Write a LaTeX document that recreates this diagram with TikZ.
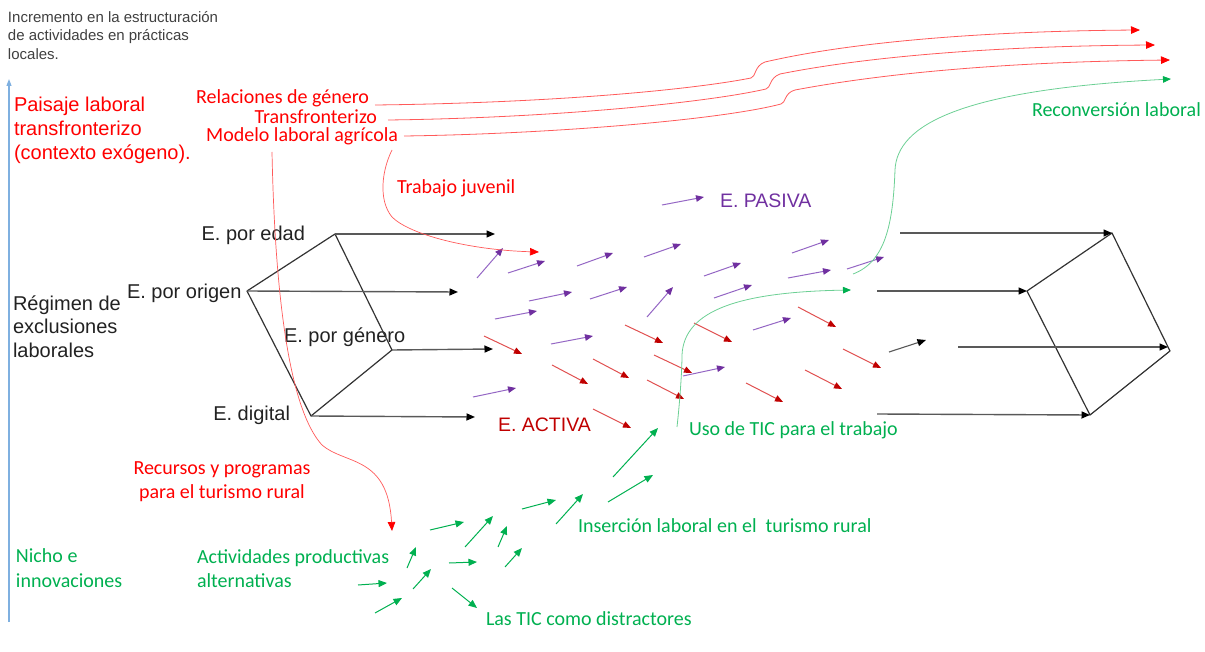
\documentclass[tikz,border=0pt]{standalone}
\usepackage{fontspec}
\setmainfont{Liberation Sans}
\newfontfamily\cbfont{Carlito}
\usetikzlibrary{arrows.meta}
\definecolor{txtgray}{HTML}{404040}
\definecolor{txtblack}{HTML}{222222}
\definecolor{lred}{HTML}{FF0000}
\definecolor{curvered}{HTML}{FF5A5A}
\definecolor{dred}{HTML}{C00000}
\definecolor{arred}{HTML}{E05050}
\definecolor{purp}{HTML}{7030A0}
\definecolor{purpline}{HTML}{9466C4}
\definecolor{grn}{HTML}{00B050}
\definecolor{lgrn}{HTML}{6CCF94}
\definecolor{axisblue}{HTML}{7FB0E0}
\begin{document}
\begin{tikzpicture}[x=1pt,y=-1pt,
  txt/.style={inner sep=0pt, outer sep=0pt},
  ar20/.style={txt, font=\fontsize{20}{24}\selectfont},
  cb20/.style={txt, font=\cbfont\fontsize{20}{24.5}\selectfont},
  pa/.style={draw=purpline, line width=1pt, -{Triangle[length=8pt,width=6.5pt,color=purp]}},
  ra/.style={draw=arred, line width=1pt, -{Triangle[length=8pt,width=6.5pt,color=dred]}},
  ga/.style={draw=grn, line width=1pt, -{Triangle[length=8.5pt,width=7pt]}},
  ka/.style={draw=black!65, line width=1.4pt, -{Triangle[length=8.5pt,width=7pt,color=black]}},
  sq/.style={draw=black!80, line width=1.2pt, line join=round},
  rcurve/.style={draw=curvered, line width=0.8pt, -{Triangle[length=9pt,width=7.5pt,color=lred]}},
  gcurve/.style={draw=lgrn, line width=0.8pt},
]
\useasboundingbox (0,0) rectangle (1205,652);

% ---------- axis ----------
\coordinate (axbot) at (9,622);
\coordinate (axtop) at (9,79);
\draw[draw=axisblue, line width=1.1pt, -{Triangle[length=7pt,width=5pt]}] (axbot) -- (axtop);

% ---------- texts (multi-line: base anchor = last line) ----------
\node[txt, anchor=base west, align=left, text=txtgray, font=\fontsize{15}{18.5}\selectfont] (incr) at (8,59.5)
  {Incremento en la estructuración\\de actividades en prácticas\\locales.};
\node[ar20, anchor=base west, align=left, text=lred] (paisaje) at (14,160)
  {Paisaje laboral\\transfronterizo\\(contexto exógeno).};
\node[ar20, anchor=base west, align=left, text=txtblack, font=\fontsize{20}{23.5}\selectfont] (regimen) at (13,357)
  {Régimen de\\exclusiones\\laborales};

\node[cb20, anchor=base east, text=lred] (rel) at (369,104) {Relaciones de género};
\node[cb20, anchor=base east, text=lred] (trans) at (377,124) {Transfronterizo};
\node[cb20, anchor=base east, text=lred] (modelo) at (398,142) {Modelo laboral agrícola};
\node[cb20, anchor=base west, text=lred] (juvenil) at (397,194) {Trabajo juvenil};
\node[cb20, anchor=base, align=center, text=lred] (recursos) at (222,498.5) {Recursos y programas\\para el turismo rural};

\node[cb20, anchor=base west, text=grn] (reconv) at (1032,117) {Reconversión laboral};
\node[cb20, anchor=base west, text=grn] (uso) at (689,435) {Uso de TIC para el trabajo};
\node[cb20, anchor=base west, text=grn] (insercion) at (578,532.5) {Inserción laboral en el\ \ turismo rural};
\node[cb20, anchor=base west, text=grn] (distr) at (486,625) {Las TIC como distractores};
\node[cb20, anchor=base west, align=left, text=grn] (nicho) at (16,587) {Nicho e\\innovaciones};
\node[cb20, anchor=base west, align=left, text=grn] (activ) at (197,587.5) {Actividades productivas\\alternativas};

\node[ar20, anchor=base west, text=purp, font=\fontsize{19.5}{23}\selectfont] (pasiva) at (720,208) {E. PASIVA};
\node[ar20, anchor=base west, text=dred, font=\fontsize{19.5}{23}\selectfont] (activa) at (498,431.5) {E. ACTIVA};

\node[ar20, anchor=base east, text=txtblack] (lbedad) at (305,240.5) {E. por edad};
\node[ar20, anchor=base west, text=txtblack] (lborigen) at (127,299) {E. por origen};
\node[ar20, anchor=base west, text=txtblack] (lbgenero) at (284,342.5) {E. por género};
\node[ar20, anchor=base east, text=txtblack] (lbdigital) at (290,420.5) {E. digital};

% ---------- left square ----------
\coordinate (edad) at (335,234);
\coordinate (origen) at (247,291);
\coordinate (genero) at (392,350);
\coordinate (digital) at (311,416);
\draw[sq] (edad) -- (origen) -- (digital) -- (genero) -- cycle;
\coordinate (edadE) at (495,234);
\coordinate (origenE) at (458,292);
\coordinate (generoE) at (493,349);
\coordinate (digitalE) at (475,417);
\draw[ka] (edad) -- (edadE);
\draw[ka] (origen) -- (origenE);
\draw[ka] (genero) -- (generoE);
\draw[ka] (digital) -- (digitalE);

% ---------- right square ----------
\coordinate (rtop) at (1112,233);
\coordinate (rleft) at (1027,291);
\coordinate (rright) at (1170,351);
\coordinate (rbot) at (1090,415);
\draw[sq] (rtop) -- (rleft) -- (rbot) -- (rright) -- cycle;
\coordinate (in1) at (900,233);
\coordinate (in2) at (877,291);
\coordinate (in3) at (958,347);
\coordinate (in3e) at (1168,347);
\coordinate (in4) at (877,414);
\draw[ka] (in1) -- (rtop);
\draw[ka] (in2) -- (rleft);
\draw[ka] (in3) -- (in3e);
\draw[ka] (in4) -- (rbot);

% ---------- small field arrows ----------
\foreach \a/\b/\c/\d in {662/205/704/197, 477/278/503/248, 508/273/545/261, 577/266/613/253,
  644/257/681/244, 529/301/572/292, 590/299/627/287, 647/317/673/287, 495/319/537/311,
  551/344/593/336, 473/397/516/388, 683/376/725/367, 792/253/829/240, 704/276/741/263,
  788/278/831/270, 714/298/752/285, 753/330/791/318, 847/269/884/257}
  \draw[pa] (\a,\b) -- (\c,\d);
\foreach \a/\b/\c/\d in {484/336/522/354, 625/325/663/343, 552/365/588/384, 593/359/629/378,
  654/355/692/373, 647/380/684/399, 593/409/631/428, 694/323/732/342, 798/307/836/327,
  843/349/881/368, 805/370/842/389, 746/383/783/402}
  \draw[ra] (\a,\b) -- (\c,\d);
\foreach \a/\b/\c/\d in {613/477/658/428, 608/502/653/475, 556/524/583/494, 522/509/556/500,
  465/547/493/516, 430/530/464/522, 498/547/507/526, 505/567/522/548, 449/563/477/562,
  407/568/416/547, 413/589/431/569, 375/613/402/598, 452/588/477/608, 358/585/387/583}
  \draw[ga] (\a,\b) -- (\c,\d);
\draw[ka, line width=1.1pt] (889,352) -- (926,340);

% ---------- long red curves ----------
\coordinate (r1s) at (375,105);
\coordinate (r2s) at (388,120);
\coordinate (r3s) at (404,136);
\coordinate (r1e) at (1140,30);
\coordinate (r2e) at (1155,45);
\coordinate (r3e) at (1170,60);
\draw[rcurve] (r1s) .. controls (550,103) and (690,90) .. (751,78)
  .. controls (756,77) and (754,66) .. (765,62)
  .. controls (860,40) and (1000,31) .. (r1e);
\draw[rcurve] (r2s) .. controls (550,118) and (705,103) .. (766,89)
  .. controls (771,88) and (769,78) .. (780,74)
  .. controls (870,56) and (1000,46) .. (r2e);
\draw[rcurve] (r3s) .. controls (550,134) and (720,120) .. (781,104)
  .. controls (786,103) and (784,93) .. (795,90)
  .. controls (880,74) and (1000,62) .. (r3e);

\coordinate (jvs) at (392,150);
\coordinate (jve) at (539,252);
\draw[rcurve, line width=0.7pt] (jvs) .. controls (382,170) and (378,200) .. (392,217)
  .. controls (410,235) and (470,250) .. (jve);

\coordinate (aps) at (272,152);
\coordinate (ape) at (392,531);
\draw[rcurve, line width=0.7pt] (aps) .. controls (275,300) and (290,410) .. (322,445)
  .. controls (345,465) and (388,455) .. (ape);

% ---------- green curves ----------
\coordinate (gs) at (853,274);
\coordinate (ge) at (1171,79);
\draw[gcurve, -{Triangle[length=8pt,width=6.5pt,color=grn]}] (gs) .. controls (885,262) and (893,225) .. (895,170)
  .. controls (897,125) and (960,90) .. (ge);
\coordinate (us) at (677,427);
\coordinate (ue) at (851,290);
\draw[gcurve, -{Triangle[length=8pt,width=6.5pt,color=grn]}] (us) .. controls (680,400) and (682,370) .. (682,355)
  .. controls (684,310) and (740,292) .. (ue);
\end{tikzpicture}
\end{document}
